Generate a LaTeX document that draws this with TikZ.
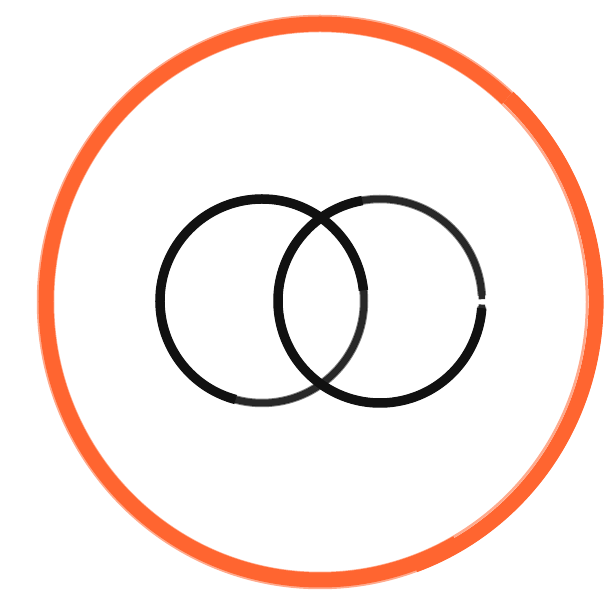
\documentclass[tikz,border=0pt]{standalone}
\definecolor{brushorange}{HTML}{FF6530}
\definecolor{inkblack}{HTML}{111111}
\tikzset{
  orangering/.style={draw=brushorange, line width=15pt},
  orangefringe/.style={draw=brushorange, line width=2.5pt, opacity=0.55},
  inkthin/.style={draw=inkblack, line width=6.5pt, opacity=0.9},
  inkthick/.style={draw=inkblack, line width=9.5pt},
  inkfringe/.style={draw=inkblack, line width=1.5pt, opacity=0.55}
}
\begin{document}
\begin{tikzpicture}[x=1pt,y=1pt]
\useasboundingbox (0,0) rectangle (606,592);
\coordinate (oc) at (320,290);
\coordinate (lc) at (262,291);
\coordinate (rc) at (380,291);
% orange brush ring
\begin{scope}[shift={(oc)}]
  \draw[orangering] (47:274 and 278) arc[start angle=47, end angle=300, x radius=274, y radius=278];
  \draw[orangering] (290:276 and 280) arc[start angle=290, end angle=407, x radius=276, y radius=280];
  \draw[orangefringe] (0,0) ellipse[x radius=282, y radius=286];
  \draw[orangefringe] (0,0) ellipse[x radius=267, y radius=271];
\end{scope}
% left black ring
\begin{scope}[shift={(lc)}]
  \draw[inkthin] (0,0) circle[radius=102];
  \draw[inkthick] (6:102) arc[start angle=6, end angle=255, radius=102];
  \draw[inkfringe] (0,0) circle[radius=105.5];
  \draw[inkfringe] (0,0) circle[radius=98.5];
\end{scope}
% right black ring
\begin{scope}[shift={(rc)}]
  \draw[inkthin] (1:102) arc[start angle=1, end angle=358, radius=102];
  \draw[inkthick] (100:102) arc[start angle=100, end angle=356, radius=102];
  \draw[inkfringe] (3:105.5) arc[start angle=3, end angle=357, radius=105.5];
  \draw[inkfringe] (3:98.5) arc[start angle=3, end angle=357, radius=98.5];
\end{scope}
\end{tikzpicture}
\end{document}
